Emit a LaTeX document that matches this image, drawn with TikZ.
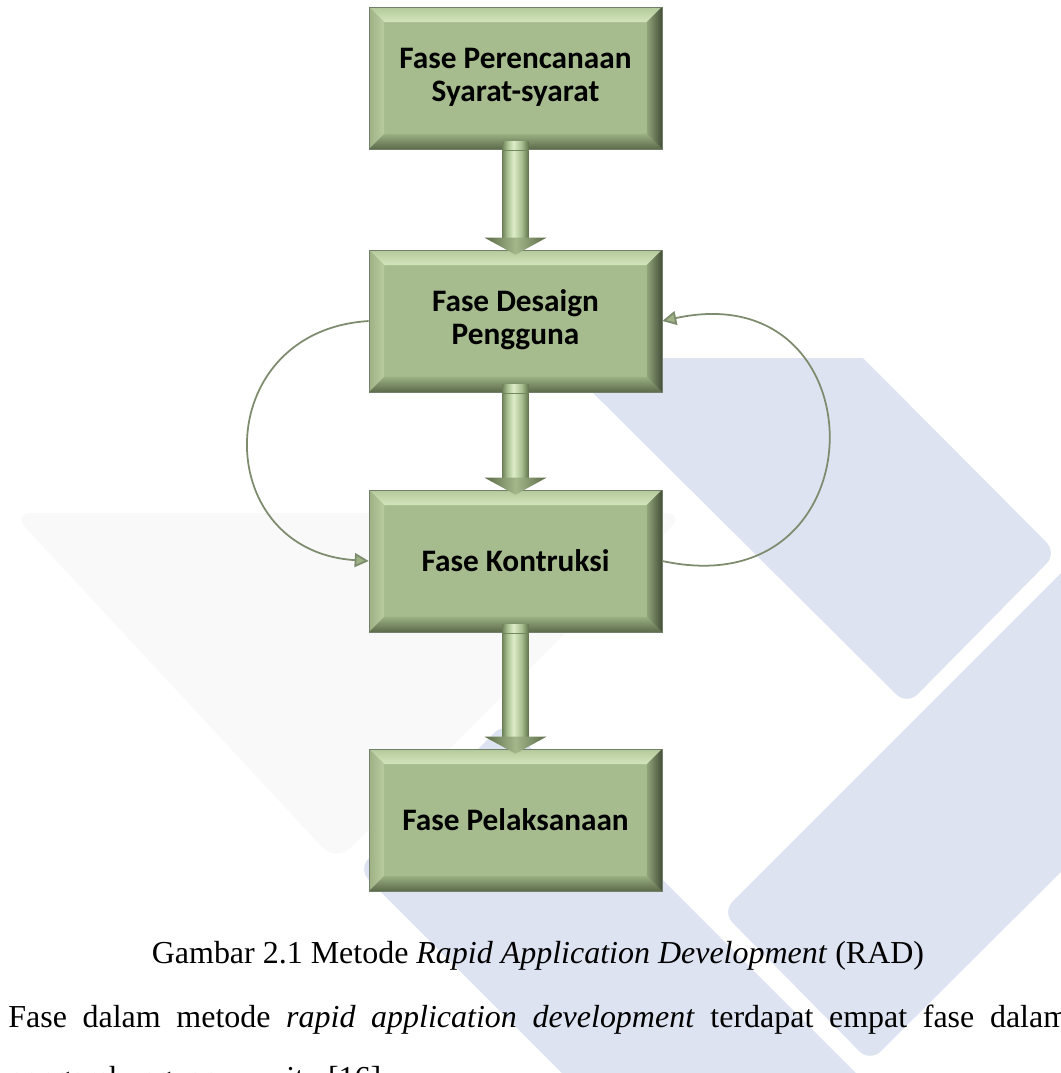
\documentclass[tikz,border=0pt]{standalone}
\usepackage{fontspec}
\setmainfont{Liberation Serif}
\newfontfamily\boxfont{Carlito}
\usetikzlibrary{calc,arrows.meta}

% watermark and page colours
\definecolor{wmblue}{HTML}{DDE3F1}
\definecolor{wmgray}{HTML}{F9F9FA}
% phase boxes
\definecolor{boxbase}{HTML}{A6BC8E}
\definecolor{boxedge}{HTML}{72806A}
\definecolor{bevtopout}{HTML}{B4C99B}
\definecolor{bevtopin}{HTML}{D3E5BC}
\definecolor{bevleftout}{HTML}{9DB185}
\definecolor{bevleftin}{HTML}{B9CCA1}
\definecolor{bevrightout}{HTML}{45503A}
\definecolor{bevrightin}{HTML}{90A479}
\definecolor{bevbotout}{HTML}{5C6A4A}
\definecolor{bevbotin}{HTML}{9AAF82}
% block arrows
\definecolor{shaftdark}{HTML}{72865C}
\definecolor{shaftmid}{HTML}{A8BE90}
\definecolor{shaftlight}{HTML}{DDEDC8}
\definecolor{shaftdarkr}{HTML}{62734C}
\definecolor{headdark}{HTML}{5C6C47}
\definecolor{headmid}{HTML}{A3B78B}
% feedback loops
\definecolor{loopline}{HTML}{7E8C6E}
\definecolor{loophead}{HTML}{9DB184}

\pgfdeclarehorizontalshading{shaftshade}{100bp}{color(0bp)=(shaftdark); color(25bp)=(shaftdark); color(34bp)=(shaftmid); color(46bp)=(shaftlight); color(62bp)=(shaftmid); color(75bp)=(shaftdarkr); color(100bp)=(shaftdarkr)}
\pgfdeclarehorizontalshading{headshade}{100bp}{color(0bp)=(headdark); color(25bp)=(headdark); color(50bp)=(headmid); color(75bp)=(headdark); color(100bp)=(headdark)}

% bevelled border of a phase box
\newcommand{\bevelframe}{%
  \path (path picture bounding box.north west) coordinate (bvNW)
        (path picture bounding box.north east) coordinate (bvNE)
        (path picture bounding box.south west) coordinate (bvSW)
        (path picture bounding box.south east) coordinate (bvSE);
  \path ([shift={(0.3cm,-0.3cm)}]bvNW) coordinate (bvnw)
        ([shift={(-0.3cm,-0.3cm)}]bvNE) coordinate (bvne)
        ([shift={(0.3cm,0.3cm)}]bvSW) coordinate (bvsw)
        ([shift={(-0.3cm,0.3cm)}]bvSE) coordinate (bvse);
  \shade[top color=bevtopout, bottom color=bevtopin] (bvNW) -- (bvNE) -- (bvne) -- (bvnw) -- cycle;
  \shade[left color=bevleftout, right color=bevleftin] (bvNW) -- (bvSW) -- (bvsw) -- (bvnw) -- cycle;
  \shade[top color=bevbotin, bottom color=bevbotout] (bvSW) -- (bvSE) -- (bvse) -- (bvsw) -- cycle;
  \shade[left color=bevrightin, right color=bevrightout] (bvNE) -- (bvSE) -- (bvse) -- (bvne) -- cycle;
}

% thick shaded arrow from the bottom of one box to the top of the next
\newcommand{\blockarrow}[2]{%
  \coordinate (#1-out) at ($(#1.south)+(0,-8)$);
  \coordinate (#2-in) at ($(#2.north)+(0,5)$);
  \shade[shading=shaftshade] ($(#1-out)+(-13,0)$) rectangle ($(#2-in)+(13,-16)$);
  \draw[shaftdark, line width=0.3pt] ($(#1-out)+(-13,9)$) -- ($(#1-out)+(13,9)$);
  \shade[shading=headshade] ($(#2-in)+(-31,-17)$) -- ($(#2-in)+(31,-17)$) -- (#2-in) -- cycle;
}

\begin{document}
\begin{tikzpicture}[x=0.02cm, y=-0.02cm,
  phasebox/.style={minimum width=5.86cm, minimum height=2.84cm, inner sep=0pt,
    fill=boxbase, draw=boxedge, line width=0.4pt,
    font=\boxfont\bfseries\fontsize{17.8pt}{18.8pt}\selectfont,
    path picture={\bevelframe}},
  cycleline/.style={draw=loopline, line width=1pt,
    -{Triangle[length=0.28cm, width=0.28cm, fill=loophead]}},
  bodytext/.style={inner sep=0pt, font=\fontsize{18.2pt}{22pt}\selectfont}]

\useasboundingbox (0,0) rectangle (1061,1073);
\clip (0,0) rectangle (1061,1073);
\fill[white] (0,0) rectangle (1061,1073);

% watermark shapes
\fill[wmgray, rounded corners=0.4cm] (12,513) -- (685,513) -- (336,862) -- cycle;
\fill[wmblue] (558,358) -- (863,358) [rounded corners=0.3cm] -- (1057,553) -- (907,705) -- cycle;
\fill[wmblue, rounded corners=0.3cm] (722,912) -- (1115,519) -- (1265,669) -- (870,1062) -- cycle;
\fill[wmblue, rounded corners=0.3cm] (505,722) -- (905,1122) -- (758,1269) -- (358,869) -- cycle;

% phases
\node[phasebox] (d1) at (515.5,78)
  {\raisebox{0.16cm}{\begin{tabular}{@{}c@{}}Fase Perencanaan\\Syarat-syarat\end{tabular}}};
\node[phasebox] (d2) at (515.5,321)
  {\begin{tabular}{@{}c@{}}Fase Desaign\\Pengguna\end{tabular}};
\node[phasebox] (d3) at (515.5,561) {Fase Kontruksi};
\node[phasebox] (d4) at (515.5,820) {Fase Pelaksanaan};

% main flow
\blockarrow{d1}{d2}
\blockarrow{d2}{d3}
\blockarrow{d3}{d4}

% iteration between design and construction
\draw[cycleline] (d2.west) .. controls +(-160,10) and +(-160,-10) .. (d3.west);
\draw[cycleline] (d3.east) .. controls +(221,48) and +(221,-48) .. (d2.east);

% caption and following paragraph
\node[bodytext, anchor=base] (cap) at (538,963)
  {Gambar 2.1 Metode \textit{Rapid Application Development} (RAD)};
\node[bodytext, anchor=base west] (par1) at (8,1027)
  {\makebox[21.2cm][s]{Fase dalam metode \textit{rapid application development} terdapat empat fase dalam}};
\node[bodytext, anchor=base west] (par2) at (8,1088)
  {pengembangannya yaitu [16] :};
\end{tikzpicture}
\end{document}
